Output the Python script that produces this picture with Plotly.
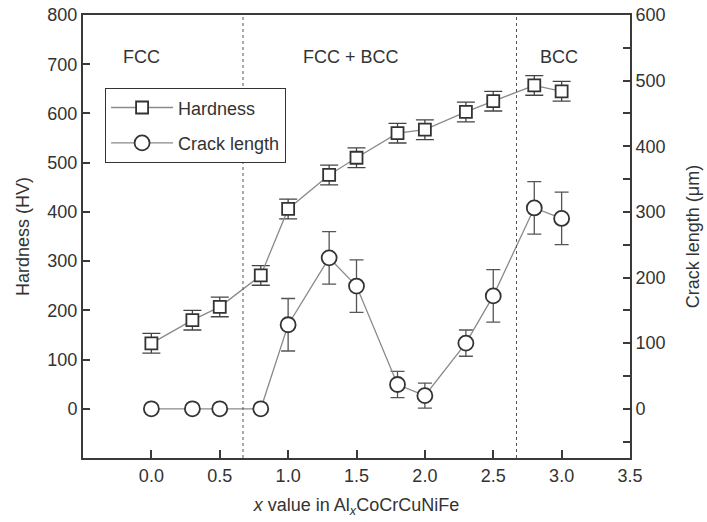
import plotly.graph_objects as go

# Data
x_vals = [0.0, 0.3, 0.5, 0.8, 1.0, 1.3, 1.5, 1.8, 2.0, 2.3, 2.5, 2.8, 3.0]
hardness = [133, 180, 207, 271, 406, 475, 510, 560, 567, 603, 625, 657, 645]
hardness_err = [20, 20, 20, 20, 20, 20, 20, 20, 20, 20, 20, 20, 20]
crack = [0, 0, 0, 0, 128, 230, 187, 37, 20, 100, 172, 306, 290]
crack_err = [0, 0, 0, 0, 40, 40, 40, 20, 19, 20, 40, 40, 40]
phase_bounds = [0.67, 2.67]
phase_labels = ["FCC", "FCC + BCC", "BCC"]
phase_label_x = [-0.07, 1.46, 2.98]
x_ticks = [0.0, 0.5, 1.0, 1.5, 2.0, 2.5, 3.0, 3.5]
left_ticks = [0, 100, 200, 300, 400, 500, 600, 700, 800]
right_ticks = [0, 100, 200, 300, 400, 500, 600]

FONT = "Liberation Sans, Arial, sans-serif"
TXT = "#333333"
AX = "#3a3a3a"
LINE = "#8a8a8a"
FS = 18

fig = go.Figure()

fig.add_trace(go.Scatter(
    x=x_vals, y=hardness, name="Hardness", legendgroup="h",
    mode="lines+markers",
    line=dict(color=LINE, width=1.3),
    marker=dict(symbol="square", size=12, color="white", line=dict(color="#333333", width=1.8)),
    error_y=dict(type="data", array=hardness_err, color="#444444", thickness=1.3, width=9),
))
fig.add_trace(go.Scatter(
    x=x_vals, y=crack, name="Crack length", legendgroup="c",
    mode="lines+markers", yaxis="y2",
    line=dict(color=LINE, width=1.3),
    marker=dict(symbol="circle", size=15, color="white", line=dict(color="#333333", width=1.8)),
    error_y=dict(type="data", array=crack_err, color="#555555", thickness=1.3, width=7),
))

for xb in phase_bounds:
    fig.add_shape(type="line", x0=xb, x1=xb, y0=0, y1=1, xref="x", yref="paper",
                  line=dict(color="#555555", width=1, dash="dot"))

for lbl, lx in zip(phase_labels, phase_label_x):
    fig.add_annotation(x=lx, y=715, xref="x", yref="y", text=lbl, showarrow=False,
                       font=dict(family=FONT, size=FS, color=TXT))

fig.update_layout(
    width=707, height=522,
    margin=dict(l=83, r=77, t=15, b=64, autoexpand=False),
    paper_bgcolor="white", plot_bgcolor="white",
    font=dict(family=FONT, size=FS, color=TXT),
    showlegend=True,
    legend=dict(x=0.040, y=0.835, xanchor="left", yanchor="top",
                bordercolor="#333333", borderwidth=1.2, bgcolor="white",
                tracegroupgap=9, traceorder="grouped", itemwidth=62,
                font=dict(family=FONT, size=FS, color=TXT)),
    xaxis=dict(range=[-0.5, 3.5], tickvals=x_ticks, tickformat=".1f", automargin=False,
               ticks="inside", ticklen=8, tickwidth=1.5, tickcolor=AX,
               showline=True, linecolor=AX, linewidth=2, mirror=True,
               showgrid=False, zeroline=False,
               title=dict(text="<i>x</i> value in Al<sub><i>x</i></sub>CoCrCuNiFe",
                          standoff=14, font=dict(size=FS))),
    yaxis=dict(range=[-100, 800], tickvals=left_ticks, automargin=False,
               ticks="inside", ticklen=7, tickwidth=1.5, tickcolor=AX,
               showline=True, linecolor=AX, linewidth=2,
               showgrid=False, zeroline=False,
               title=dict(text="Hardness (HV)", standoff=13, font=dict(size=FS))),
    yaxis2=dict(range=[-75, 600], tickvals=right_ticks, overlaying="y", side="right",
                automargin=False,
                ticks="inside", ticklen=7, tickwidth=1.5, tickcolor=AX,
                minor=dict(dtick=50, tick0=0, ticks="inside", ticklen=7, tickwidth=1.5, tickcolor=AX),
                showline=True, linecolor=AX, linewidth=2,
                showgrid=False, zeroline=False,
                title=dict(text="Crack length (μm)", standoff=22, font=dict(size=FS))),
)

fig.write_html("out.html", config={"displayModeBar": False},
               post_script="document.body.style.margin='0';")
